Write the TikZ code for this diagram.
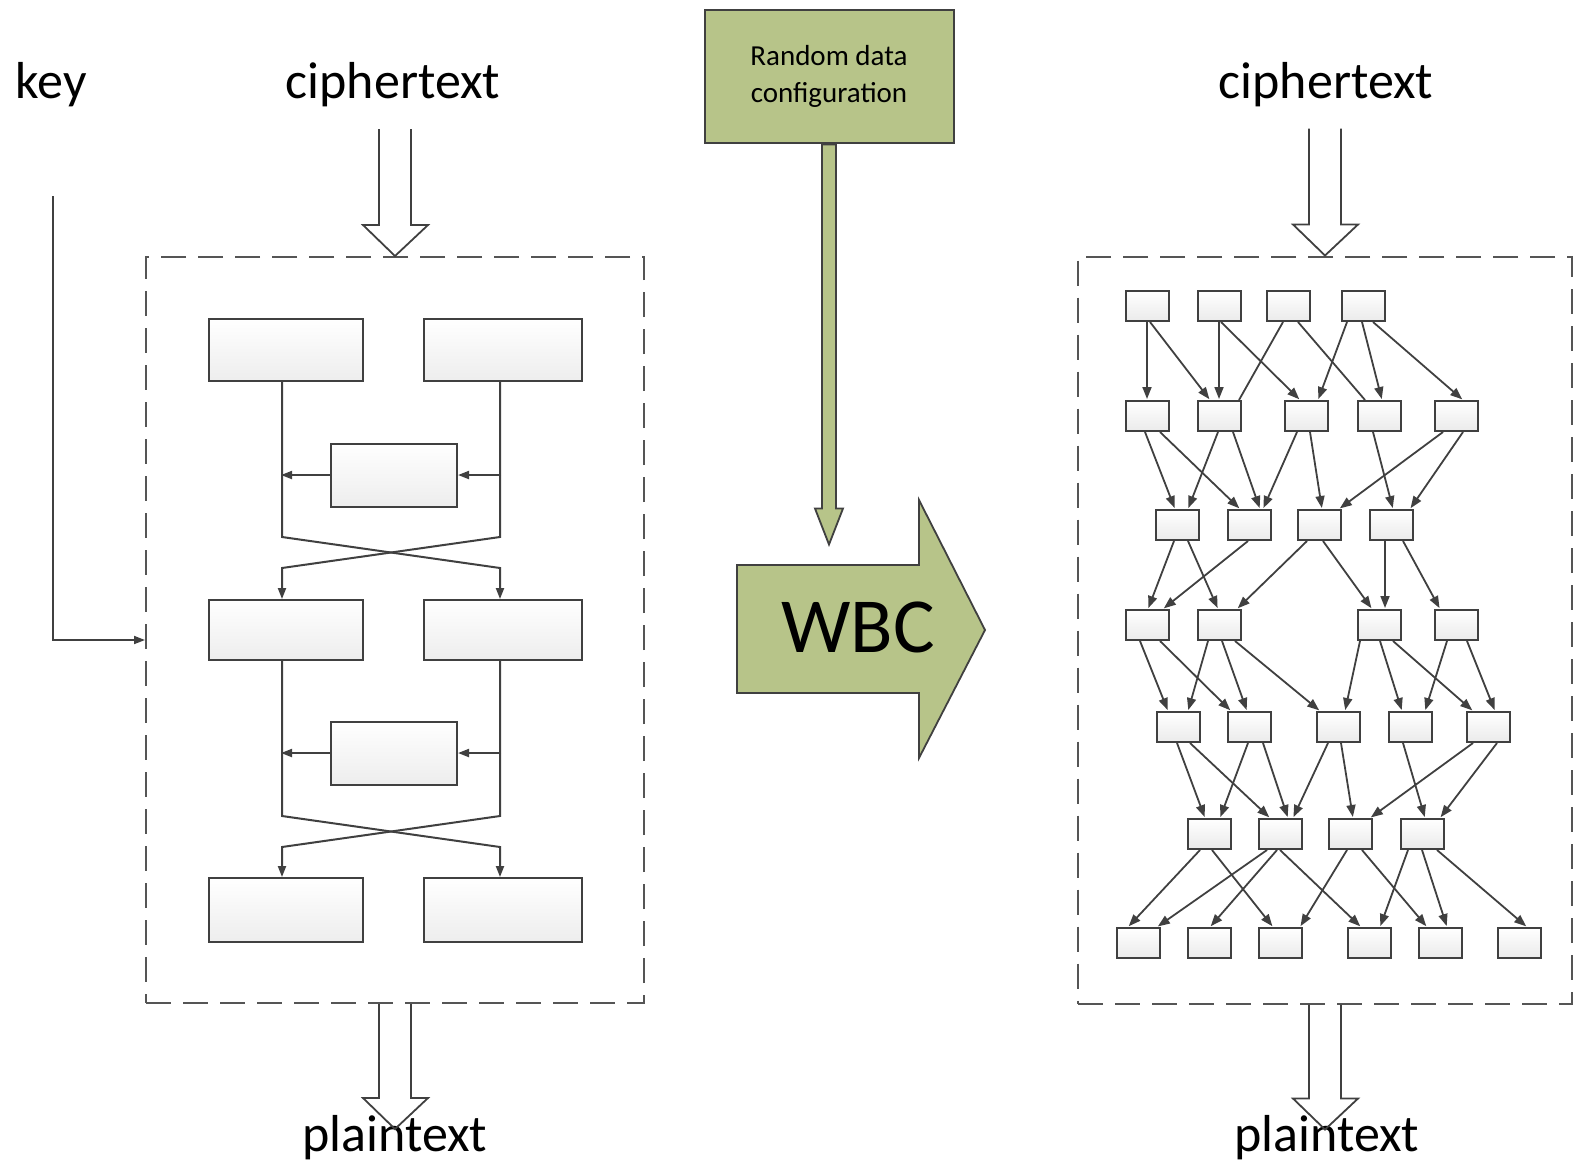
\documentclass[tikz,border=0pt]{standalone}
\usepackage{fontspec}
\setmainfont{Carlito}
\usetikzlibrary{arrows.meta,calc}
\definecolor{dgray}{RGB}{64,64,64}
\definecolor{dashgray}{RGB}{85,85,85}
\definecolor{wbcgreen}{RGB}{183,196,137}
\newcommand\GE[4]{\draw[gedge] ([xshift=#2pt]n#1.south) -- ([xshift=#4pt]n#3.north);}
\newcommand\GL[4]{\draw[gline] ([xshift=#2pt]n#1.south) -- ([xshift=#4pt]n#3.north);}
\newcommand\hollowin[1]{\draw[hollow] ([shift={(-16,-127)}]#1) -- ++(0,96) -- ++(-16,0) -- (#1) -- ++(33,-31) -- ++(-17,0) -- ++(0,-96);}
\newcommand\hollowout[1]{\draw[hollow] ([xshift=-16pt]#1) -- ++(0,94) -- ++(-16,0) -- ++(32,31) -- ++(33,-31) -- ++(-17,0) -- ++(0,-94);}
\begin{document}
\begin{tikzpicture}[x=1pt,y=-1pt,
  txt/.style={font=\fontsize{52pt}{62pt}\selectfont, inner sep=0pt, anchor=base},
  dbox/.style={draw=dashgray, line width=2pt, dash pattern=on 25pt off 12pt, inner sep=0pt},
  bbox/.style={draw=dgray, line width=2pt, top color=white, bottom color=gray!14, inner sep=0pt, minimum width=154pt, minimum height=62pt},
  fbox/.style={bbox, minimum width=126pt, minimum height=63pt},
  sbox/.style={draw=dgray, line width=2pt, top color=white, bottom color=gray!16, inner sep=0pt, minimum width=43pt, minimum height=30pt},
  lline/.style={draw=dgray, line width=2pt},
  ltip/.style={-{Triangle[length=11pt,width=8pt]}},
  gedge/.style={draw=dgray, line width=1.8pt, -{Triangle[length=12pt,width=9pt]}, shorten >=1pt},
  gline/.style={draw=dgray, line width=1.8pt},
  hollow/.style={draw=dgray, line width=1.8pt, line join=miter},
  gshape/.style={fill=wbcgreen, draw=dgray, line width=1.8pt, line join=miter},
  gbox/.style={fill=wbcgreen, draw=dgray, line width=2pt, inner sep=0pt}]
\useasboundingbox (0,0) rectangle (1574,1165);

% ---------- left part ----------
\node[txt] (key) at (51,98) {key};
\node[txt] (ctL) at (393,98) {ciphertext};
\node[txt] (ptL) at (395,1151) {plaintext};
\node[dbox, minimum width=498pt, minimum height=746pt] (lbox) at (395,630) {};

\node[bbox] (A) at (286,350) {};
\node[bbox, minimum width=158pt] (B) at (503,350) {};
\node[fbox] (F1) at (394,475) {};
\node[bbox, minimum height=60pt] (C) at (286,630) {};
\node[bbox, minimum width=158pt, minimum height=60pt] (D) at (503,630) {};
\node[fbox] (F2) at (394,753) {};
\node[bbox, minimum height=64pt] (E) at (286,910) {};
\node[bbox, minimum width=158pt, minimum height=64pt] (G) at (503,910) {};

\draw[lline, ltip] ([xshift=-4pt]A.south) -- (282,537) -- (500,568) -- ([xshift=-3pt]D.north);
\draw[lline, ltip] ([xshift=-3pt]B.south) -- (500,537) -- (282,568) -- ([xshift=-4pt]C.north);
\draw[lline, ltip] (F1.west) -- ++(-49,0);
\draw[lline, ltip] ([xshift=43pt]F1.east) -- (F1.east);

\draw[lline, ltip] ([xshift=-4pt]C.south) -- (282,816) -- (500,847) -- ([xshift=-3pt]G.north);
\draw[lline, ltip] ([xshift=-3pt]D.south) -- (500,816) -- (282,847) -- ([xshift=-4pt]E.north);
\draw[lline, ltip] (F2.west) -- ++(-49,0);
\draw[lline, ltip] ([xshift=43pt]F2.east) -- (F2.east);

\coordinate (k1) at (53,196);
\draw[lline, line width=1.8pt, ltip] (k1) |- (lbox.west |- 0,640);

\hollowin{lbox.north}
\hollowout{lbox.south}

% ---------- middle ----------
\node[gbox, minimum width=249pt, minimum height=133pt, align=center,
      font=\fontsize{29pt}{37pt}\selectfont] (rnd) at (829,76) {Random data\\configuration};
\draw[gshape] ([shift={(-7,1)}]rnd.south) -- ++(0,364) -- ++(-7,0) -- ++(14,36) -- ++(14,-36) -- ++(-7,0) -- ++(0,-364) -- cycle;
\draw[gshape] (737,565) -- (919,565) -- (919,500) -- (985,630) -- (919,758) -- (919,693) -- (737,693) -- cycle;
\node[font=\fontsize{78pt}{90pt}\selectfont, inner sep=0pt, anchor=base] (wbc) at (858,652) {WBC};

% ---------- right part ----------
\node[txt] (ctR) at (1326,98) {ciphertext};
\node[txt] (ptR) at (1327,1151) {plaintext};
\node[dbox, minimum width=494pt, minimum height=747pt] (rbox) at (1325,630) {};
\hollowin{rbox.north}
\hollowout{rbox.south}

\foreach \r/\y/\xl in {1/306/{1147,1219,1288,1363},
                       2/416/{1147,1219,1306,1379,1456},
                       3/525/{1177,1249,1319,1391},
                       4/625/{1147,1219,1379,1456},
                       5/727/{1178,1249,1338,1410,1488},
                       6/834/{1209,1280,1350,1422},
                       7/943/{1138,1209,1280,1369,1440,1519}}
  {\foreach \x [count=\i] in \xl {\node[sbox] (n\r\i) at (\x,\y) {};}}

% row 1 -> 2
\GE{11}{0}{21}{0}
\GE{11}{3}{22}{-9}
\GE{12}{0}{22}{0}
\GE{12}{2}{23}{-6}
\GL{13}{-5}{22}{20}
\GL{13}{10}{24}{-14}
\GE{14}{-16}{23}{12}
\GE{14}{-1}{24}{3}
\GE{14}{10}{25}{7}
% row 2 -> 3
\GE{21}{-2}{31}{-2}
\GE{21}{13}{32}{-9}
\GE{22}{-1}{31}{11}
\GE{22}{14}{32}{11}
\GE{23}{-9}{32}{14}
\GE{23}{4}{33}{3}
\GE{24}{-6}{34}{2}
\GE{25}{-13}{33}{20}
\GE{25}{7}{34}{19}
% row 3 -> 4
\GE{31}{-3}{41}{1}
\GE{31}{11}{42}{-1}
\GE{32}{-1}{41}{16}
\GE{33}{-12}{42}{18}
\GE{33}{4}{43}{-7}
\GE{34}{-6}{43}{6}
\GE{34}{12}{44}{-16}
% row 4 -> 5
\GE{41}{-7}{51}{-10}
\GE{41}{13}{52}{-18}
\GE{42}{-11}{51}{10}
\GE{42}{3}{52}{-2}
\GE{42}{16}{53}{-18}
\GE{43}{-19}{53}{7}
\GE{43}{1}{54}{-8}
\GE{43}{14}{55}{-15}
\GE{44}{-9}{54}{15}
\GE{44}{11}{55}{7}
% row 5 -> 6
\GE{51}{-1}{61}{-4}
\GE{51}{12}{62}{-10}
\GE{52}{-1}{61}{11}
\GE{52}{14}{62}{8}
\GE{53}{-10}{62}{13}
\GE{53}{3}{63}{3}
\GE{54}{-7}{64}{3}
\GE{55}{-15}{63}{20}
\GE{55}{9}{64}{18}
% row 6 -> 7
\GE{61}{-9}{71}{-10}
\GE{61}{3}{73}{-7}
\GE{62}{-13}{71}{19}
\GE{62}{-3}{72}{1}
\GE{62}{0}{74}{-8}
\GE{63}{-3}{73}{20}
\GE{63}{12}{75}{-13}
\GE{64}{-14}{74}{11}
\GE{64}{0}{75}{7}
\GE{64}{15}{76}{8}
\end{tikzpicture}
\end{document}
